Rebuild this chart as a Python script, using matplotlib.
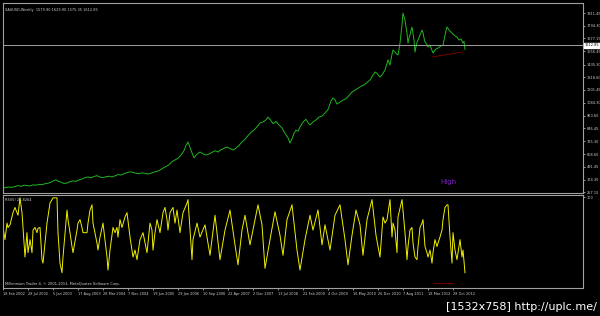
import numpy as np
import matplotlib.pyplot as plt
from matplotlib import transforms

# weekly gold close (bar position, price)
bar_x = [3, 6, 9, 12, 15, 18, 21, 24, 27, 30, 33, 36, 39, 42, 45, 48, 51, 54, 56, 58,
         60, 62, 64, 67, 70, 73, 76, 79, 82, 85, 88, 91, 94, 97, 100, 103, 106, 109, 112, 115,
         118, 121, 124, 127, 130, 133, 136, 139, 142, 145, 148, 151, 154, 157, 160, 163, 166, 169, 172, 175,
         178, 181, 184, 186, 188, 190, 192, 194, 196, 198, 200, 203, 206, 209, 212, 215, 218, 221, 224, 227,
         230, 233, 236, 239, 242, 245, 248, 251, 254, 257, 260, 263, 266, 268, 270, 273, 276, 279, 282, 285,
         288, 290, 292, 294, 296, 298, 300, 303, 306, 308, 310, 313, 316, 319, 322, 325, 328, 331, 333, 335,
         337, 340, 343, 346, 349, 352, 355, 358, 361, 364, 367, 370, 373, 375, 377, 380, 382, 385, 388, 390,
         392, 393, 395, 397, 398, 400, 401, 402, 403, 404, 405, 406, 407, 408, 409, 410, 411, 412, 413, 414,
         415, 416, 417, 418, 420, 422, 423, 424, 425, 427, 428, 430, 431, 433, 435, 436, 438, 440, 441, 443,
         444, 445, 446, 447, 448, 449, 451, 452, 454, 455, 457, 459, 461, 463, 464, 465]
price = [296, 300, 305, 302, 310, 318, 312, 322, 318, 315, 325, 322, 330, 328, 335, 340, 350, 365, 372, 360,
         352, 345, 338, 342, 355, 362, 358, 370, 380, 392, 398, 390, 402, 410, 397, 392, 400, 405, 398, 408,
         420, 416, 428, 438, 445, 440, 432, 428, 436, 430, 425, 434, 442, 450, 462, 480, 495, 510, 540, 555,
         570, 600, 640, 690, 721, 670, 620, 575, 600, 615, 628, 612, 600, 610, 625, 640, 628, 650, 662, 674,
         660, 647, 665, 690, 721, 745, 780, 810, 831, 860, 896, 905, 924, 951, 930, 890, 910, 878, 850, 800,
         760, 711, 750, 800, 830, 820, 859, 905, 930, 900, 878, 905, 924, 950, 960, 988, 1020, 1100, 1127, 1110,
         1071, 1090, 1108, 1120, 1150, 1182, 1200, 1219, 1235, 1247, 1270, 1293, 1340, 1367, 1355, 1320, 1340, 1385, 1478, 1431,
         1530, 1570, 1551, 1530, 1524, 1634, 1720, 1800, 1911, 1880, 1847, 1780, 1727, 1634, 1680, 1708, 1750, 1782, 1720, 1662,
         1551, 1600, 1640, 1662, 1708, 1754, 1730, 1681, 1644, 1620, 1598, 1616, 1590, 1542, 1570, 1579, 1588, 1600, 1607, 1616,
         1660, 1708, 1750, 1782, 1770, 1754, 1735, 1727, 1710, 1699, 1690, 1662, 1672, 1634, 1650, 1575]

# RSI(5)
rsi_x = [3, 5, 7, 8, 10, 13, 15, 18, 20, 22, 23, 25, 27, 28, 30, 32, 33, 35, 37, 38,
         40, 42, 43, 47, 50, 53, 57, 58, 60, 62, 63, 67, 68, 70, 72, 73, 77, 78, 80, 82,
         83, 87, 88, 90, 92, 93, 97, 98, 100, 103, 107, 108, 110, 113, 115, 117, 118, 120, 122, 125,
         127, 130, 133, 135, 137, 140, 143, 147, 150, 152, 153, 155, 157, 160, 163, 165, 167, 168, 170, 173,
         175, 177, 180, 182, 183, 187, 188, 192, 193, 197, 200, 205, 210, 215, 220, 225, 230, 235, 238, 242,
         245, 250, 255, 258, 262, 265, 270, 275, 280, 283, 287, 292, 297, 300, 305, 310, 313, 318, 322, 325,
         330, 335, 340, 345, 348, 352, 356, 360, 363, 367, 372, 376, 380, 383, 385, 387, 390, 392, 393, 395,
         397, 398, 402, 403, 405, 407, 408, 410, 412, 413, 415, 417, 418, 420, 422, 423, 425, 427, 428, 430,
         432, 433, 435, 437, 438, 440, 442, 443, 445, 447, 448, 450, 452, 453, 455, 457, 460, 462, 463, 465]
rsi = [65, 51, 70, 65, 68, 82, 88, 79, 99, 82, 65, 31, 59, 36, 51, 36, 62, 65, 59, 64,
       65, 28, 24, 70, 93, 99, 99, 59, 24, 13, 31, 85, 74, 59, 43, 36, 62, 70, 74, 65,
       59, 59, 70, 85, 91, 70, 47, 39, 54, 70, 31, 16, 39, 65, 59, 65, 54, 74, 65, 77,
       82, 54, 31, 39, 28, 51, 59, 36, 70, 62, 39, 59, 74, 59, 82, 88, 74, 62, 82, 88,
       70, 85, 59, 74, 82, 93, 97, 28, 51, 70, 54, 68, 33, 79, 28, 62, 85, 45, 22, 62,
       79, 45, 74, 91, 68, 18, 51, 83, 56, 33, 74, 91, 39, 16, 51, 79, 62, 85, 45, 68,
       39, 79, 91, 51, 22, 56, 85, 68, 33, 74, 97, 56, 31, 77, 70, 74, 97, 54, 70, 62,
       36, 77, 97, 85, 59, 28, 43, 62, 65, 47, 31, 28, 43, 65, 70, 74, 43, 36, 31, 39,
       24, 36, 51, 43, 47, 54, 62, 74, 88, 91, 91, 54, 24, 59, 39, 28, 51, 31, 39, 13]

price_ticks = [1911.45, 1794.30, 1677.15, 1556.45, 1435.30, 1318.60, 1201.45, 1084.30,
               963.60, 846.45, 725.30, 608.60, 491.45, 374.30, 257.15]
last_close = 1612.85

date_pos = [3, 28, 53, 78, 103, 128, 153, 178, 203, 228, 253, 278, 303, 328, 353, 378, 403, 428, 453]
date_labels = ['18 Feb 2002', '28 Jul 2002', '5 Jan 2003', '17 Aug 2003', '28 Mar 2004',
               '7 Nov 2004', '19 Jun 2005', '29 Jan 2006', '10 Sep 2006', '22 Apr 2007',
               '2 Dec 2007', '13 Jul 2008', '22 Feb 2009', '4 Oct 2009', '16 May 2010',
               '26 Dec 2010', '7 Aug 2011', '18 Mar 2012', '28 Oct 2012']

W, H = 600, 316
def box(l, t, r, b):
    return [l / W, 1 - b / H, (r - l) / W, (b - t) / H]

fig = plt.figure(figsize=(6, 3.16), dpi=100, facecolor='black')
ax = fig.add_axes(box(3, 3, 583, 193), facecolor='black')
rax = fig.add_axes(box(3, 195, 583, 288), facecolor='black')

txt = '#d0d0d0'
fs = 2.5
for a in (ax, rax):
    for s in a.spines.values():
        s.set_color('#a0a0a0')
        s.set_linewidth(0.8)
    a.set_xlim(3, 583)
    a.yaxis.tick_right()
    a.tick_params(colors=txt, labelsize=fs, length=1.5, width=0.5, pad=1.2)

# price panel
ax.plot(bar_x, price, color='#1fb51f', lw=0.7)
ax.set_ylim(249.9, 2003.8)
ax.set_yticks(price_ticks)
ax.set_yticklabels(['%.2f' % v for v in price_ticks])
ax.set_xticks([])
ax.axhline(last_close, color='#a0a0a0', lw=0.7)
ax.text(1.0025, last_close, '%.2f' % last_close,
        transform=transforms.blended_transform_factory(ax.transAxes, ax.transData),
        fontsize=fs, color='black', va='center', ha='left',
        bbox=dict(facecolor='white', edgecolor='white', pad=0.5))
ax.plot([432, 462], [1505, 1551], color='#8b0000', lw=0.6)
ax.text(440, 355, 'High', color='#7a1fc0', fontsize=5, va='center')
ax.text(0.004, 0.965, 'XAUUSD,Weekly  1579.90 1629.90 1575.35 1612.85', transform=ax.transAxes,
        color=txt, fontsize=fs, va='center')

# RSI panel
rax.plot(rsi_x, rsi, color='#f0f000', lw=0.7)
rax.set_ylim(-4.6, 102.3)
rax.set_yticks([100])
rax.set_yticklabels(['100'])
rax.plot([433, 453], [1, 1], color='#8b0000', lw=0.6)
rax.text(0.004, 0.95, 'RSI(5) 26.8264', transform=rax.transAxes, color=txt, fontsize=fs, va='center')
rax.text(0.004, 0.04, 'Millennium Trader 4, \u00a9 2001-2013, MetaQuotes Software Corp.', transform=rax.transAxes,
         color=txt, fontsize=2.6, va='center')
rax.set_xticks(date_pos)
rax.set_xticklabels(date_labels, ha='left')
rax.tick_params(axis='x', length=1.5, pad=1.5)

fig.text(446 / W, 1 - 307 / H, '[1532x758] http://uplc.me/', color='white', fontsize=8, va='center', ha='left')

fig.savefig('out.png', dpi=100, facecolor='black')
